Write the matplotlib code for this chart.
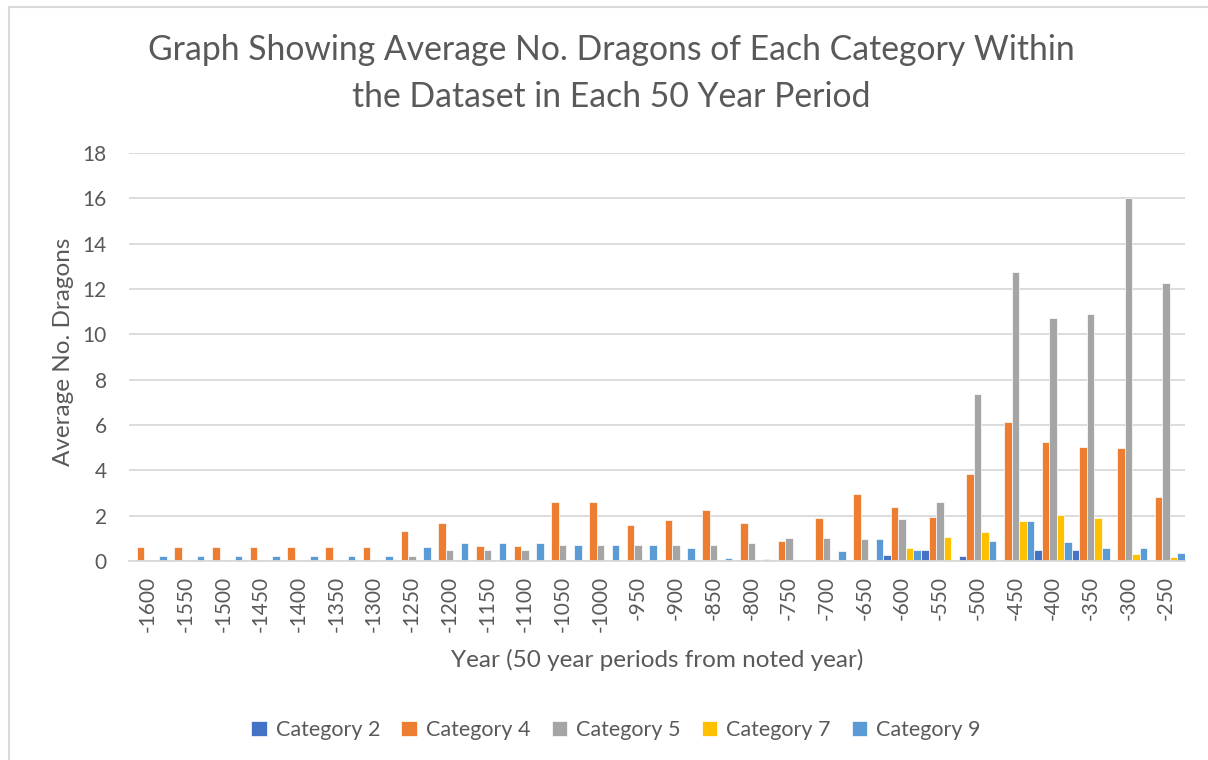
import matplotlib
matplotlib.use("Agg")
import matplotlib.pyplot as plt
from matplotlib.patches import Rectangle
import numpy as np

years = [-1600, -1550, -1500, -1450, -1400, -1350, -1300, -1250, -1200, -1150,
         -1100, -1050, -1000, -950, -900, -850, -800, -750, -700, -650,
         -600, -550, -500, -450, -400, -350, -300, -250]

cat2 = [0, 0, 0, 0, 0, 0, 0, 0, 0, 0,
        0, 0, 0, 0, 0, 0, 0, 0, 0, 0,
        0.25, 0.5, 0.2, 0, 0.5, 0.5, 0, 0]
cat4 = [0.6, 0.6, 0.6, 0.6, 0.6, 0.6, 0.6, 1.33, 1.67, 0.67,
        0.67, 2.6, 2.6, 1.6, 1.8, 2.27, 1.67, 0.9, 1.9, 2.95,
        2.4, 1.96, 3.85, 6.15, 5.25, 5.04, 4.98, 2.84]
cat5 = [0, 0, 0, 0, 0, 0, 0, 0.22, 0.5, 0.5,
        0.5, 0.69, 0.69, 0.69, 0.69, 0.69, 0.8, 1.0, 1.0, 0.98,
        1.87, 2.6, 7.36, 12.75, 10.7, 10.9, 16.0, 12.28]
cat7 = [0, 0, 0, 0, 0, 0, 0, 0, 0, 0,
        0, 0, 0, 0, 0, 0, 0, 0, 0, 0,
        0.56, 1.04, 1.27, 1.76, 2.02, 1.88, 0.29, 0.16]
cat9 = [0.24, 0.24, 0.24, 0.24, 0.24, 0.24, 0.24, 0.6, 0.78, 0.78,
        0.78, 0.69, 0.69, 0.69, 0.56, 0.15, 0.07, 0, 0.46, 0.98,
        0.47, 0, 0.88, 1.76, 0.82, 0.59, 0.59, 0.34]

series_names = ["Category 2", "Category 4", "Category 5", "Category 7", "Category 9"]
series_values = [cat2, cat4, cat5, cat7, cat9]
colors = ["#4472C4", "#ED7D31", "#A5A5A5", "#FFC000", "#5B9BD5"]

title_lines = ["Graph Showing Average No. Dragons of Each Category Within",
               "the Dataset in Each 50 Year Period"]
xlabel = "Year (50 year periods from noted year)"
ylabel = "Average No. Dragons"

FONT = ["Lato", "DejaVu Sans"]
TXT = "#595959"
GRID = "#D9D9D9"

plt.rcParams["font.family"] = FONT

W, H = 1208, 760
fig = plt.figure(figsize=(W / 100, H / 100), dpi=100)
fig.patch.set_facecolor("white")

# chart border (left and top edges visible)
fig.patches.append(Rectangle((9 / W, -0.05), 1.2, (1 - 7 / H) + 0.05,
                             transform=fig.transFigure, fill=False,
                             edgecolor=GRID, linewidth=1.5))

ax = fig.add_axes([129 / W, 1 - 561 / H, (1185 - 129) / W, (561 - 153) / H])

x = np.arange(len(years))
w = 0.2
for i, (name, vals, c) in enumerate(zip(series_names, series_values, colors)):
    ax.bar(x + (i - 2) * w, vals, width=w, color=c, edgecolor="white",
           linewidth=0.5, label=name, zorder=3)

ax.set_xlim(-0.5, len(years) - 0.5)
ax.set_ylim(0, 18)
ax.set_yticks(np.arange(0, 19, 2))
ax.set_xticks(x)
ax.set_xticklabels([str(y) for y in years], rotation=90, fontsize=15, color=TXT)
ax.tick_params(axis="y", labelsize=15, labelcolor=TXT, length=0, pad=16)
ax.tick_params(axis="x", length=0, pad=11)
ax.grid(axis="y", color=GRID, linewidth=1.3, zorder=0)
for s in ["left", "right", "top"]:
    ax.spines[s].set_visible(False)
ax.spines["bottom"].set_color(GRID)
ax.spines["bottom"].set_linewidth(1.3)
ax.spines["bottom"].set_zorder(4)

fig.text(657 / W, 1 - 660 / H, xlabel, ha="center", va="center",
         fontsize=17.5, color=TXT)
fig.text(63 / W, 1 - 352 / H, ylabel, ha="center", va="center",
         rotation=90, fontsize=17.5, color=TXT)

fig.text(611 / W, 1 - 50 / H, title_lines[0], ha="center", va="center",
         fontsize=24.3, color=TXT)
fig.text(611 / W, 1 - 97 / H, title_lines[1], ha="center", va="center",
         fontsize=24.3, color=TXT)

fig.legend(loc="center", bbox_to_anchor=(616 / W, 1 - 730 / H), ncol=5,
           frameon=False, fontsize=15.5, labelcolor=TXT, handlelength=0.72,
           handleheight=0.72, handletextpad=0.4, columnspacing=1.0)

fig.savefig("out.png", dpi=100, facecolor="white")
